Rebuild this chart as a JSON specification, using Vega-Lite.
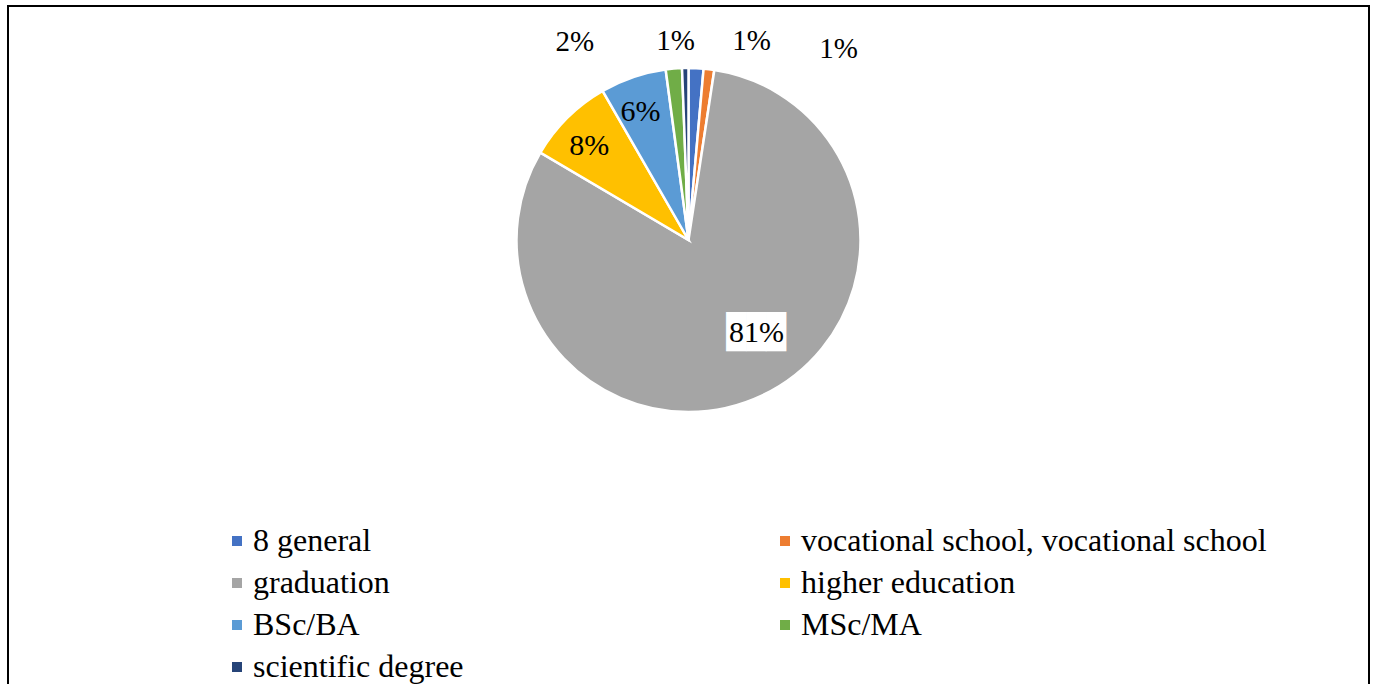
{
  "$schema": "https://vega.github.io/schema/vega-lite/v6.json",
  "width": 1361,
  "height": 700,
  "autosize": {"type": "none"},
  "padding": {"left": 8, "top": 6, "right": 6, "bottom": 0},
  "background": "white",
  "config": {
    "view": {"stroke": null},
    "font": "Liberation Serif",
    "text": {"font": "Liberation Serif"}
  },
  "data": {
    "values": [
      {"category": "8 general", "share": 0.014, "idx": 1},
      {"category": "vocational school, vocational school", "share": 0.010, "idx": 2},
      {"category": "graduation", "share": 0.8108, "idx": 3},
      {"category": "higher education", "share": 0.082, "idx": 4},
      {"category": "BSc/BA", "share": 0.062, "idx": 5},
      {"category": "MSc/MA", "share": 0.0152, "idx": 6},
      {"category": "scientific degree", "share": 0.006, "idx": 7}
    ]
  },
  "layer": [
    {
      "data": {"values": [{"frame": "border"}]},
      "mark": {"type": "rect", "fill": null, "stroke": "black", "strokeWidth": 2},
      "encoding": {
        "x": {"value": 0},
        "x2": {"value": "width"},
        "y": {"value": 0},
        "y2": {"value": "height"}
      }
    },
    {
      "encoding": {
        "theta": {"field": "share", "type": "quantitative", "stack": true},
        "order": {"field": "idx", "type": "quantitative"},
        "color": {
          "field": "category",
          "type": "nominal",
          "scale": {
            "domain": ["8 general", "vocational school, vocational school", "graduation", "higher education", "BSc/BA", "MSc/MA", "scientific degree"],
            "range": ["#4472C4", "#ED7D31", "#A5A5A5", "#FFC000", "#5B9BD5", "#70AD47", "#264478"]
          },
          "legend": {
            "title": null,
            "orient": "none",
            "legendX": 213,
            "legendY": 519,
            "columns": 2,
            "direction": "horizontal",
            "padding": 0,
            "symbolType": "square",
            "symbolSize": 100,
            "symbolStrokeWidth": 0,
            "symbolOpacity": 1,
            "labelFont": "Liberation Serif",
            "labelFontSize": 32,
            "labelColor": "black",
            "labelOffset": 0,
            "labelLimit": 0,
            "rowPadding": 10,
            "columnPadding": 305
          }
        }
      },
      "layer": [
        {
          "mark": {"type": "arc", "radius": 172, "yOffset": -116, "stroke": "white", "strokeWidth": 2.5}
        },
        {
          "mark": {"type": "text", "radius": 115, "thetaOffset": -0.188, "yOffset": -116, "font": "DejaVu Sans Mono", "fontSize": 33, "baseline": "middle", "align": "center"},
          "encoding": {
            "text": {"value": "███"},
            "color": {"value": "white"},
            "opacity": {"condition": {"test": "datum.idx == 3", "value": 1}, "value": 0}
          }
        },
        {
          "mark": {"type": "text", "radius": 115, "thetaOffset": -0.188, "yOffset": -116, "fontSize": 30, "baseline": "middle", "align": "center"},
          "encoding": {
            "text": {"field": "share", "type": "quantitative", "format": ".0%"},
            "color": {"value": "black"},
            "opacity": {"condition": {"test": "datum.idx == 3", "value": 1}, "value": 0}
          }
        },
        {
          "mark": {"type": "text", "radius": 137, "thetaOffset": -0.03, "yOffset": -116, "fontSize": 30, "baseline": "middle", "align": "center"},
          "encoding": {
            "text": {"field": "share", "type": "quantitative", "format": ".0%"},
            "color": {"value": "black"},
            "opacity": {"condition": {"test": "datum.idx == 4 || datum.idx == 5", "value": 1}, "value": 0}
          }
        },
        {
          "mark": {"type": "text", "radius": 228, "thetaOffset": -0.436, "yOffset": -116, "fontSize": 29, "baseline": "middle", "align": "center"},
          "encoding": {
            "text": {"field": "share", "type": "quantitative", "format": ".0%"},
            "color": {"value": "black"},
            "opacity": {"condition": {"test": "datum.idx == 6", "value": 1}, "value": 0}
          }
        },
        {
          "mark": {"type": "text", "radius": 199, "thetaOffset": -0.046, "yOffset": -116, "fontSize": 29, "baseline": "middle", "align": "center"},
          "encoding": {
            "text": {"field": "share", "type": "quantitative", "format": ".0%"},
            "color": {"value": "black"},
            "opacity": {"condition": {"test": "datum.idx == 7", "value": 1}, "value": 0}
          }
        },
        {
          "mark": {"type": "text", "radius": 209, "thetaOffset": 0.263, "yOffset": -116, "fontSize": 29, "baseline": "middle", "align": "center"},
          "encoding": {
            "text": {"field": "share", "type": "quantitative", "format": ".0%"},
            "color": {"value": "black"},
            "opacity": {"condition": {"test": "datum.idx == 1", "value": 1}, "value": 0}
          }
        },
        {
          "mark": {"type": "text", "radius": 243, "thetaOffset": 0.546, "yOffset": -116, "fontSize": 29, "baseline": "middle", "align": "center"},
          "encoding": {
            "text": {"field": "share", "type": "quantitative", "format": ".0%"},
            "color": {"value": "black"},
            "opacity": {"condition": {"test": "datum.idx == 2", "value": 1}, "value": 0}
          }
        }
      ]
    }
  ]
}
